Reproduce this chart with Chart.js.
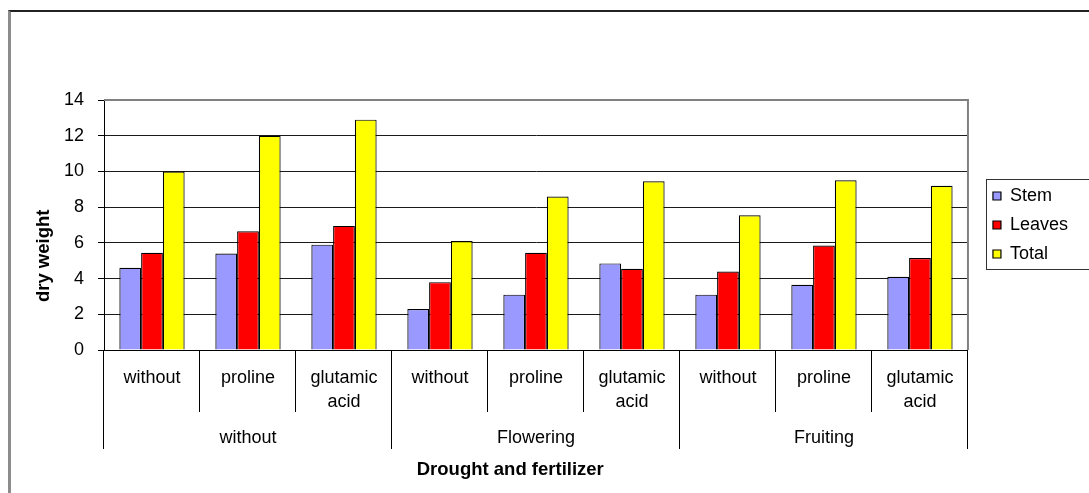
<!DOCTYPE html>
<html>
<head>
<meta charset="utf-8">
<script src="https://cdn.jsdelivr.net/npm/chart.js@4.4.1/dist/chart.umd.min.js"></script>
<style>
  body { margin: 0; background: #fff; overflow: hidden; }
  #wrap { position: relative; width: 1089px; height: 493px; }
  #frame {
    position: absolute; left: 8px; top: 10px; width: 1100px; height: 500px;
    border-top: 2px solid #222; border-left: 3px solid #8c8c8c;
  }
  #myBarChart { position: absolute; left: 0; top: 0; }
</style>
</head>
<body>
<div id="wrap">
  <div id="frame"></div>
  <canvas id="myBarChart" width="1089" height="493"></canvas>
</div>
<script>
// growth stage groups and fertilizer treatments (x axis, two levels)
const stageLabels = ["without", "Flowering", "Fruiting"];
const treatmentLabels = [["without"], ["proline"], ["glutamic", "acid"]];

// dry weight per bar
const stemValues = [4.6, 5.4, 5.9, 2.3, 3.1, 4.85, 3.1, 3.65, 4.1];
const leavesValues = [5.45, 6.65, 6.95, 3.8, 5.45, 4.55, 4.4, 5.85, 5.15];
const totalValues = [10.0, 12.0, 12.9, 6.1, 8.6, 9.45, 7.55, 9.5, 9.2];

const yTicks = [0, 2, 4, 6, 8, 10, 12, 14];

const barColors = {
    stem: "#9999FF",
    leaves: "#FF0000",
    total: "#FFFF00",
};

const labels = stageLabels.flatMap(() => treatmentLabels);

Chart.defaults.font.family = "'Liberation Sans', Arial, sans-serif";
Chart.defaults.font.size = 18;
Chart.defaults.color = "#000";

// gray border on top/right of plot area + box around the legend
const framePlugin = {
    id: "framePlugin",
    beforeDatasetsDraw(chart) {
        const { ctx, chartArea } = chart;
        ctx.save();
        ctx.strokeStyle = "#808080";
        ctx.lineWidth = 2;
        ctx.beginPath();
        ctx.moveTo(chartArea.left, chartArea.top);
        ctx.lineTo(chartArea.right, chartArea.top);
        ctx.lineTo(chartArea.right, chartArea.bottom);
        ctx.stroke();
        ctx.restore();
    },
    afterDraw(chart) {
        const legend = chart.legend;
        if (!legend || !legend.legendHitBoxes.length) return;
        const boxes = legend.legendHitBoxes;
        const first = boxes[0];
        const last = boxes[boxes.length - 1];
        const { ctx } = chart;
        ctx.save();
        ctx.strokeStyle = "#333";
        ctx.lineWidth = 1;
        const x = Math.round(legend.left + 4) + 0.5;
        const y = Math.round(first.top - 8) + 0.5;
        const bottom = Math.round(last.top + last.height + 6) + 0.5;
        ctx.strokeRect(x, y, chart.width + 20 - x, bottom - y);
        ctx.restore();
    },
};

const ctx = document.getElementById("myBarChart").getContext("2d");
const myBarChart = new Chart(ctx, {
    type: "bar",
    data: {
        labels: labels,
        datasets: [
            { label: "Stem", data: stemValues, backgroundColor: barColors.stem },
            { label: "Leaves", data: leavesValues, backgroundColor: barColors.leaves },
            { label: "Total", data: totalValues, backgroundColor: barColors.total },
        ],
    },
    options: {
        responsive: false,
        animation: false,
        maintainAspectRatio: false,
        layout: { padding: { top: 100, left: 0, right: 11, bottom: 0 } },
        datasets: {
            bar: {
                borderColor: "#000",
                borderWidth: 1.2,
                categoryPercentage: 0.68,
                barPercentage: 1.0,
            },
        },
        plugins: {
            tooltip: { enabled: false },
            legend: {
                position: "right",
                fullSize: false,
                labels: {
                    boxWidth: 8,
                    boxHeight: 8,
                    padding: 11,
                    color: "#000",
                    font: { size: 18 },
                },
            },
        },
        scales: {
            x: {
                type: "category",
                position: "bottom",
                offset: true,
                grid: {
                    offset: true,
                    drawOnChartArea: false,
                    tickLength: 62,
                    // group boundaries are drawn by the stage axis
                    color: ctx => ctx.index % treatmentLabels.length === 0 ? "rgba(0,0,0,0)" : "#000",
                    lineWidth: 1,
                },
                border: { color: "#000", width: 1 },
                ticks: {
                    autoSkip: false,
                    maxRotation: 0,
                    minRotation: 0,
                    padding: -46,
                    font: { size: 18, lineHeight: 1.333 },
                },
                title: {
                    display: true,
                    text: "Drought and fertilizer          ",
                    font: { size: 18.5, weight: "bold" },
                    padding: { top: 0, bottom: 12 },
                },
                afterFit(scale) { scale.height = 143; },
            },
            xStage: {
                type: "category",
                labels: stageLabels,
                position: { y: 0 },
                offset: true,
                grid: {
                    offset: true,
                    drawOnChartArea: false,
                    tickLength: 99,
                    color: "#000",
                    lineWidth: 1,
                },
                border: { display: false },
                ticks: {
                    autoSkip: false,
                    maxRotation: 0,
                    padding: -21.8,
                    font: { size: 18 },
                },
            },
            y: {
                min: 0,
                max: 14,
                afterBuildTicks(scale) {
                    scale.ticks = yTicks.map(v => ({ value: v }));
                },
                grid: {
                    color: ctx => ctx.tick && ctx.tick.value === 14 ? "rgba(0,0,0,0)" : "#1a1a1a",
                    tickColor: "#000",
                    tickLength: 6,
                    lineWidth: 1,
                },
                border: { color: "#000", width: 1 },
                ticks: { padding: 14, font: { size: 18 } },
                title: {
                    display: true,
                    text: "dry weight            ",
                    font: { size: 18.5, weight: "bold" },
                    padding: { top: 33, bottom: 0 },
                },
                afterFit(scale) { scale.width = 104; },
            },
            ySpacer: {
                type: "linear",
                position: "right",
                display: true,
                grid: { display: false },
                border: { display: false },
                ticks: { display: false },
                afterFit(scale) { scale.width = 14; },
            },
        },
    },
    plugins: [framePlugin],
});
</script>
</body>
</html>
